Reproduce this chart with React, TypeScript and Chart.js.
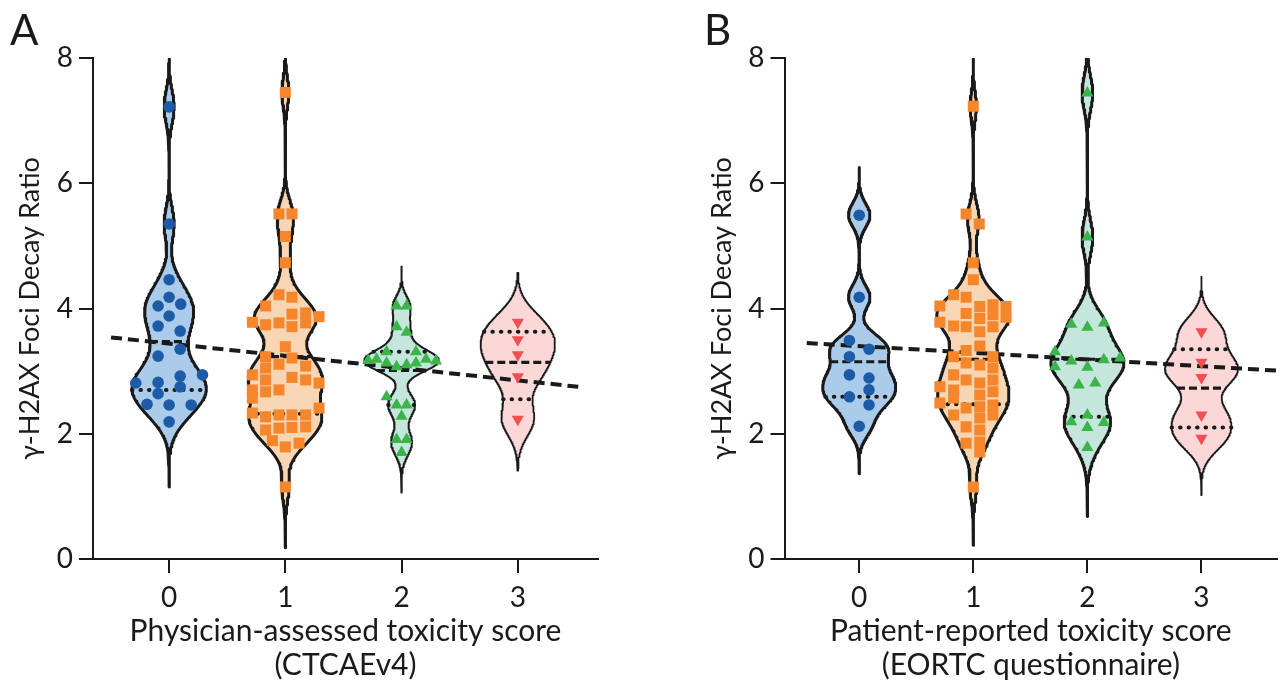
import React, { useEffect, useRef } from 'react';
import { Chart, registerables } from 'chart.js';

Chart.register(...registerables);

// ---------- categories / ticks ----------
const CATEGORIES = [0, 1, 2, 3];
const X_TICK_LABELS = ['0', '1', '2', '3'];
const Y_TICKS = [0, 2, 4, 6, 8];
const Y_TITLE = 'γ-H2AX Foci Decay Ratio';
const A_X_TITLE = ['Physician-assessed toxicity score', '(CTCAEv4)'];
const B_X_TITLE = ['Patient-reported toxicity score', '(EORTC questionnaire)'];

// ---------- Panel A (physician-assessed) ----------
const A0_VALUES = [7.22, 5.35, 4.46, 4.18, 4.04, 4.07, 3.88, 3.72, 3.64, 3.35, 3.24, 2.81, 2.82, 2.92, 2.94, 2.75, 2.64, 2.47, 2.46, 2.46, 2.19];
const A0_DX = [0, 0, 0, 0, -0.095, 0.1, 0, -0.095, 0.095, 0.095, -0.095, -0.287, -0.095, 0.095, 0.287, 0.095, -0.095, -0.19, 0, 0.19, 0];

const A1_VALUES = [7.45, 5.51, 5.51, 5.15, 4.73, 4.22, 4.18, 4.04, 3.78, 3.74, 3.77, 3.91, 3.71, 3.93, 3.77, 3.87, 3.39, 3.21, 3.23, 3.05, 2.86, 2.67, 3.11, 3.08, 2.94, 2.70, 2.90, 2.86, 2.81, 2.70, 2.57, 2.41, 2.33, 2.27, 2.06, 2.30, 2.09, 2.30, 2.10, 2.30, 2.11, 1.89, 1.79, 1.85, 1.15];
const A1_DX = [0, -0.055, 0.057, 0, 0, -0.055, 0.057, -0.17, -0.284, -0.17, -0.055, 0.057, 0.057, 0.175, 0.175, 0.29, 0, 0.057, -0.17, -0.17, -0.17, -0.17, -0.055, 0.175, -0.284, -0.284, 0.057, 0.175, 0.29, -0.055, -0.284, 0.29, -0.284, -0.17, -0.17, -0.055, -0.055, 0.057, 0.057, 0.175, 0.175, -0.112, 0, 0.118, 0];

const A2_VALUES = [4.04, 4.04, 3.71, 3.62, 3.31, 3.31, 3.17, 3.19, 3.13, 3.07, 3.10, 3.13, 3.19, 3.16, 2.59, 2.46, 2.46, 2.28, 1.91, 1.91, 1.70];
const A2_DX = [-0.043, 0.043, -0.043, 0.043, -0.129, 0.124, -0.287, -0.215, -0.129, -0.043, 0.043, 0.124, 0.21, 0.296, -0.129, -0.043, 0.043, 0, -0.043, 0.043, 0];

const A3_VALUES = [3.78, 3.50, 3.26, 2.91, 2.23];
const A3_DX = [0, 0, 0, 0, 0];

const A_MEDIANS = [3.47, 3.23, 3.01, 3.14];
const A_Q1 = [2.70, 2.32, 2.46, 2.55];
const A_Q3 = [null, null, 3.31, 3.63];
const A_BANDWIDTH = [0.26, 0.24, 0.16, 0.27];
const A_EXTENT_LOW = [1.15, 0.18, 1.06, 1.41];
const A_EXTENT_HIGH = [8, 8, 4.67, 4.57];
const A_REG_INTERCEPT = 3.44;
const A_REG_SLOPE = -0.196;
const A_REG_XRANGE = [-0.5, 3.52];

// ---------- Panel B (patient-reported) ----------
const B0_VALUES = [5.49, 4.18, 3.49, 3.35, 3.23, 2.94, 2.89, 2.70, 2.59, 2.46, 2.12];
const B0_DX = [0, 0, -0.086, 0.086, -0.086, -0.086, 0.086, 0.086, -0.086, 0.086, 0];

const B1_VALUES = [7.23, 5.51, 5.35, 4.73, 4.46, 4.22, 4.18, 4.04, 3.92, 4.03, 3.84, 4.06, 3.90, 3.71, 4.03, 3.86, 3.78, 3.72, 3.71, 3.63, 3.40, 3.33, 3.23, 3.23, 3.05, 2.86, 2.67, 3.13, 3.10, 2.94, 2.70, 2.86, 2.75, 2.81, 2.62, 2.43, 2.25, 2.06, 2.49, 2.57, 2.41, 2.46, 2.30, 2.30, 2.11, 1.85, 1.87, 1.71, 1.15];
const B1_DX = [0, -0.063, 0.052, 0, 0, -0.172, -0.063, -0.293, -0.063, 0.057, 0.057, 0.172, 0.172, 0.172, 0.287, 0.287, -0.293, -0.172, -0.063, 0.057, 0.057, -0.063, -0.172, 0.172, 0.172, 0.172, 0.172, -0.063, 0.057, -0.172, -0.172, -0.063, -0.293, 0.057, 0.057, 0.057, 0.057, 0.057, -0.293, -0.172, -0.063, 0.172, 0.172, -0.172, -0.063, -0.063, 0.057, 0.057, 0];

const B2_VALUES = [7.44, 5.14, 3.75, 3.70, 3.77, 3.31, 3.07, 3.16, 3.06, 3.18, 3.21, 2.78, 2.81, 2.30, 2.19, 2.18, 2.10, 1.78];
const B2_DX = [0, 0, -0.141, 0, 0.144, -0.284, -0.284, -0.141, 0, 0.144, 0.287, -0.075, 0.069, 0, -0.141, 0.144, 0, 0];

const B3_VALUES = [3.63, 3.14, 2.90, 2.30, 1.93];
const B3_DX = [0, 0, 0, 0, 0];

const B_MEDIANS = [3.15, 3.19, 3.19, 2.73];
const B_Q1 = [2.59, 2.47, 2.27, 2.10];
const B_Q3 = [null, null, null, 3.35];
const B_BANDWIDTH = [0.19, 0.23, 0.27, 0.24];
const B_EXTENT_LOW = [1.36, 0.22, 0.68, 1.02];
const B_EXTENT_HIGH = [6.25, 8, 8, 4.51];
const B_REG_INTERCEPT = 3.40;
const B_REG_SLOPE = -0.107;
const B_REG_XRANGE = [-0.46, 3.664];

// ---------- styles ----------
const POINT_COLORS = ['#1d5ba7', '#f5862b', '#3bb44a', '#f0504f'];
const FILL_COLORS = ['#aacbe9', '#f9d6b3', '#c5e6dc', '#fcd7d7'];
const POINT_STYLES = ['circle', 'rect', 'triangle', 'triangle'];
const POINT_RADII = [5.8, 7.8, 7, 7];
const POINT_ROTATIONS = [0, 0, 0, 180];
const A_OUTLINE_WIDTHS = [3, 3, 2, 1.8];
const B_OUTLINE_WIDTHS = [3, 3, 3, 1.8];
const VIOLIN_HALF_WIDTH = 0.32;
const INK = '#1a1a1a';
const FONT = 'Lato, "Open Sans", sans-serif';

function density(values: number[], h: number, y: number) {
  let s = 0;
  for (const v of values) {
    const z = (y - v) / h;
    s += Math.exp(-0.5 * z * z);
  }
  return s;
}

function makeViolin(values: number[], h: number, lo: number, hi: number) {
  const n = 320;
  const ys: number[] = [];
  for (let i = 0; i <= n; i++) ys.push(lo + ((hi - lo) * i) / n);
  const ds = ys.map((y) => density(values, h, y));
  const mx = Math.max(...ds);
  const half = (y: number) => (VIOLIN_HALF_WIDTH * density(values, h, y)) / mx;
  const outline = (cat: number) => {
    const right = ys.map((y, i) => ({ x: cat + (VIOLIN_HALF_WIDTH * ds[i]) / mx, y }));
    const left = ys.map((y, i) => ({ x: cat - (VIOLIN_HALF_WIDTH * ds[i]) / mx, y })).reverse();
    return [...right, ...left];
  };
  return { half, outline };
}

interface PanelSpec {
  values: number[][];
  dx: number[][];
  medians: (number | null)[];
  q1: (number | null)[];
  q3: (number | null)[];
  bandwidth: number[];
  low: number[];
  high: number[];
  outlineWidths: number[];
  regIntercept: number;
  regSlope: number;
  regXRange: number[];
}

function buildDatasets(p: PanelSpec) {
  const ds: any[] = [];
  p.values.forEach((vals, i) => {
    const cat = CATEGORIES[i];
    const v = makeViolin(vals, p.bandwidth[i], p.low[i], p.high[i]);
    ds.push({
      type: 'line',
      data: v.outline(cat),
      violinFill: FILL_COLORS[i],
      borderColor: INK,
      borderWidth: p.outlineWidths[i],
      borderJoinStyle: 'round',
      pointRadius: 0,
      pointHoverRadius: 0,
      fill: false,
      tension: 0,
      order: 5,
    });
    const addLine = (y: number | null, median: boolean) => {
      if (y == null) return;
      const hw = v.half(y);
      ds.push({
        type: 'line',
        data: [
          { x: cat - hw, y },
          { x: cat + hw, y },
        ],
        borderColor: INK,
        borderWidth: median ? 3.2 : 4,
        borderDash: median ? [8, 4] : [0.5, 8],
        borderCapStyle: median ? 'butt' : 'round',
        pointRadius: 0,
        pointHoverRadius: 0,
        fill: false,
        order: 3,
      });
    };
    addLine(p.q3[i], false);
    addLine(p.medians[i], true);
    addLine(p.q1[i], false);
    ds.push({
      type: 'scatter',
      data: vals.map((y, k) => ({ x: cat + p.dx[i][k], y })),
      pointStyle: POINT_STYLES[i],
      pointRadius: POINT_RADII[i],
      pointHoverRadius: POINT_RADII[i],
      pointRotation: POINT_ROTATIONS[i],
      backgroundColor: POINT_COLORS[i],
      borderColor: POINT_COLORS[i],
      borderWidth: 0,
      order: 1,
    });
  });
  ds.push({
    type: 'line',
    data: p.regXRange.map((x) => ({ x, y: p.regIntercept + p.regSlope * x })),
    borderColor: INK,
    borderWidth: 4,
    borderDash: [11, 6],
    pointRadius: 0,
    pointHoverRadius: 0,
    fill: false,
    order: 2,
  });
  return ds;
}

const violinFillPlugin = {
  id: 'violinFill',
  beforeDatasetsDraw(chart: any) {
    const ctx = chart.ctx;
    const a = chart.chartArea;
    ctx.save();
    ctx.beginPath();
    ctx.rect(a.left, a.top, a.right - a.left, a.bottom - a.top);
    ctx.clip();
    chart.data.datasets.forEach((d: any, i: number) => {
      if (!d.violinFill) return;
      const meta = chart.getDatasetMeta(i);
      ctx.beginPath();
      meta.data.forEach((pt: any, k: number) => (k ? ctx.lineTo(pt.x, pt.y) : ctx.moveTo(pt.x, pt.y)));
      ctx.closePath();
      ctx.fillStyle = d.violinFill;
      ctx.fill();
    });
    ctx.restore();
  },
};

function makeConfig(p: PanelSpec, xTitle: string[], xMin: number, xMax: number, padLeft: number, padRight: number, yWidth: number) {
  const axisCommon = {
    grid: { display: true, drawOnChartArea: false, drawTicks: true, tickLength: 14, color: INK, lineWidth: 2 },
    border: { display: true, color: INK, width: 2 },
  };
  return {
    type: 'scatter',
    data: { datasets: buildDatasets(p) },
    plugins: [violinFillPlugin],
    options: {
      responsive: false,
      animation: false,
      devicePixelRatio: 1,
      events: [],
      layout: { padding: { left: padLeft, right: padRight, top: 58, bottom: 0 } },
      plugins: { legend: { display: false }, tooltip: { enabled: false } },
      scales: {
        x: {
          type: 'linear',
          min: xMin,
          max: xMax,
          afterBuildTicks: (s: any) => {
            s.ticks = CATEGORIES.map((v) => ({ value: v }));
          },
          afterFit: (s: any) => {
            s.height = 126;
          },
          ticks: {
            callback: (_v: any, i: number) => X_TICK_LABELS[i],
            font: { family: FONT, size: 28 },
            color: INK,
            padding: 8,
            maxRotation: 0,
          },
          title: {
            display: true,
            text: xTitle,
            font: { family: FONT, size: 30, lineHeight: 1.13 },
            color: INK,
            padding: { top: 0, bottom: 3 },
          },
          ...axisCommon,
        },
        y: {
          type: 'linear',
          min: 0,
          max: 8,
          afterBuildTicks: (s: any) => {
            s.ticks = Y_TICKS.map((v) => ({ value: v }));
          },
          afterFit: (s: any) => {
            s.width = yWidth;
          },
          ticks: {
            font: { family: FONT, size: 28 },
            color: INK,
            padding: 6,
          },
          title: {
            display: true,
            text: Y_TITLE,
            font: { family: FONT, size: 27, lineHeight: 1.15 },
            color: INK,
            padding: { top: 0, bottom: 0 },
          },
          ...axisCommon,
        },
      },
    },
  };
}

const PANEL_A: PanelSpec = {
  values: [A0_VALUES, A1_VALUES, A2_VALUES, A3_VALUES],
  dx: [A0_DX, A1_DX, A2_DX, A3_DX],
  medians: A_MEDIANS,
  q1: A_Q1,
  q3: A_Q3,
  bandwidth: A_BANDWIDTH,
  low: A_EXTENT_LOW,
  high: A_EXTENT_HIGH,
  outlineWidths: A_OUTLINE_WIDTHS,
  regIntercept: A_REG_INTERCEPT,
  regSlope: A_REG_SLOPE,
  regXRange: A_REG_XRANGE,
};

const PANEL_B: PanelSpec = {
  values: [B0_VALUES, B1_VALUES, B2_VALUES, B3_VALUES],
  dx: [B0_DX, B1_DX, B2_DX, B3_DX],
  medians: B_MEDIANS,
  q1: B_Q1,
  q3: B_Q3,
  bandwidth: B_BANDWIDTH,
  low: B_EXTENT_LOW,
  high: B_EXTENT_HIGH,
  outlineWidths: B_OUTLINE_WIDTHS,
  regIntercept: B_REG_INTERCEPT,
  regSlope: B_REG_SLOPE,
  regXRange: B_REG_XRANGE,
};

function Panel({ config, width }: { config: any; width: number }) {
  const ref = useRef<HTMLCanvasElement>(null);
  useEffect(() => {
    if (!ref.current) return;
    const chart = new Chart(ref.current, config);
    let alive = true;
    if ((document as any).fonts && (document as any).fonts.load) {
      (document as any).fonts.load('26px Lato').then(() => {
        if (alive) chart.update();
      });
    }
    return () => {
      alive = false;
      chart.destroy();
    };
  }, [config]);
  return <canvas ref={ref} width={width} height={685} style={{ width, height: 685, display: 'block' }} />;
}

const CONFIG_A = makeConfig(PANEL_A, A_X_TITLE, -0.655, 3.69, 15, 42, 78);
const CONFIG_B = makeConfig(PANEL_B, B_X_TITLE, -0.655, 3.664, 67, 0, 77.5);

export default function App() {
  const letter: React.CSSProperties = {
    position: 'absolute',
    top: 8,
    fontFamily: FONT,
    fontSize: 42,
    lineHeight: 1,
    color: INK,
  };
  return (
    <div style={{ position: 'absolute', left: 0, top: 0, width: 1285, height: 685, overflow: 'hidden', background: '#fff' }}>
      <div style={{ position: 'absolute', left: 0, top: 0 }}>
        <Panel config={CONFIG_A} width={640} />
      </div>
      <div style={{ position: 'absolute', left: 640, top: 0 }}>
        <Panel config={CONFIG_B} width={645} />
      </div>
      <div style={{ ...letter, left: 10 }}>A</div>
      <div style={{ ...letter, left: 704 }}>B</div>
    </div>
  );
}
